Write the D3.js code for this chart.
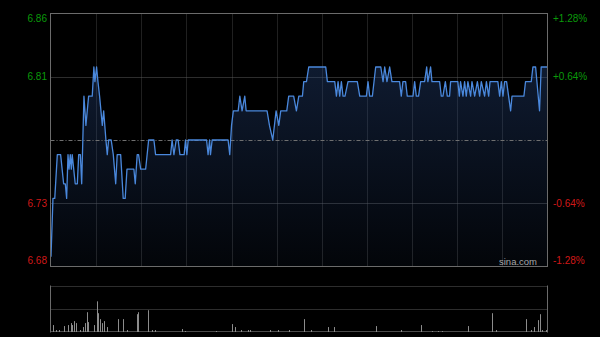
<!DOCTYPE html>
<meta charset="utf-8">
<script src="https://d3js.org/d3.v7.min.js"></script>
<style>
  body { margin: 0; background: #000; }
  text { font-family: "Liberation Sans", Arial, sans-serif; }
</style>
<div id="vis"></div>
<script type="text/javascript">

// previous close and intraday minute series (minute offset from open, 330 = close)
var prevClose = 6.77;

var times = [0, 1.3, 2.5, 4.2, 6.4, 8.4, 9.5, 10.4, 11.3, 12, 12.8, 13.5, 14.1, 16.1, 17.5, 18.4, 19.5, 20.4,
  21.9, 23.2, 25, 27.4, 28.5, 29.2, 30.3, 31.2, 32.3, 34.1, 35, 36.5, 37.4, 38.3, 40, 41.4, 43, 44, 46.3,
  48, 49.3, 50.5, 55.1, 56, 57.3, 58.2, 59.6, 62.9, 64.9, 68.4, 69.5, 79.5, 80.5, 81.7, 83.2, 84.5, 85.7,
  88.5, 89.4, 90.3, 91.2, 103.4, 104.4, 105.4, 106, 107.1, 117.7, 118.8, 120, 121.2, 124.4, 125.5, 127,
  128.8, 129.7, 143.6, 145.2, 147.4, 149.6, 151.4, 152.7, 156.7, 158, 161.3, 163.1, 164.7, 167.1, 168,
  169.8, 171.3, 182.6, 183.7, 188.6, 189.7, 190.8, 191.9, 193, 194.1, 195.4, 197.4, 203.6, 205.2, 209.6,
  210.7, 211.8, 213.6, 215.8, 219.2, 220.7, 221.8, 223.3, 225.1, 226.6, 231.7, 232.8, 233.9, 235.7, 236.8,
  240.6, 241.7, 242.8, 244.3, 245.7, 248.3, 249.7, 250.5, 252.3, 253.2, 258.3, 259.4, 260.5, 262.1, 263.4,
  264.9, 265.6, 270.4, 271.4, 272.2, 273.8, 274.9, 276, 277.1, 278.9, 279.8, 281.6, 283.4, 284.9, 286,
  288.2, 289.4, 290.9, 291.8, 297, 298.2, 299.3, 300.4, 301.5, 302.8, 305.5, 306.4, 314.3, 315.4, 319.2,
  320.3, 322.1, 324.7, 325.8, 330];

var prices = [6.69, 6.73, 6.73, 6.76, 6.76, 6.74, 6.74, 6.73, 6.76, 6.75, 6.76, 6.75, 6.76, 6.74, 6.74, 6.76, 6.76, 6.74,
  6.80, 6.78, 6.80, 6.80, 6.82, 6.81, 6.82, 6.81, 6.80, 6.78, 6.79, 6.77, 6.76, 6.77, 6.77, 6.76, 6.74, 6.76, 6.76,
  6.73, 6.73, 6.75, 6.75, 6.74, 6.76, 6.76, 6.75, 6.75, 6.77, 6.77, 6.76, 6.76, 6.77, 6.76, 6.77, 6.77, 6.76,
  6.76, 6.77, 6.76, 6.77, 6.77, 6.76, 6.77, 6.76, 6.77, 6.77, 6.76, 6.78, 6.79, 6.79, 6.80, 6.79,
  6.80, 6.79, 6.79, 6.78, 6.77, 6.79, 6.78, 6.79, 6.79, 6.80, 6.80, 6.79, 6.80, 6.80, 6.81,
  6.81, 6.82, 6.82, 6.81, 6.81, 6.80, 6.81, 6.80, 6.81, 6.80, 6.80, 6.81, 6.81, 6.80, 6.80,
  6.81, 6.80, 6.80, 6.82, 6.82, 6.81, 6.82, 6.81, 6.82, 6.81, 6.81, 6.80, 6.81, 6.81, 6.80,
  6.80, 6.81, 6.80, 6.80, 6.81, 6.81, 6.82, 6.81, 6.82, 6.81, 6.81, 6.80, 6.80, 6.81, 6.80,
  6.80, 6.81, 6.81, 6.80, 6.81, 6.80, 6.81, 6.80, 6.81, 6.80, 6.81, 6.80, 6.81, 6.80, 6.81,
  6.80, 6.81, 6.80, 6.81, 6.81, 6.80, 6.81, 6.80, 6.81, 6.81, 6.79, 6.80, 6.80, 6.81, 6.81,
  6.82, 6.82, 6.79, 6.82, 6.82];

// volume (thousand shares) at minute offsets
var volTimes = [1.5, 3, 5, 8.6, 11.5, 13.1, 14.1, 15.3, 16.8, 19.3, 21, 22.6, 23.7, 24.8, 28.6, 30.3, 31.4,
  32.5, 33.7, 35.4, 37, 44.7, 48, 50.3, 56.9, 58, 64.6, 67, 69, 86.8, 89, 109.6, 120.4, 122.6, 126.6,
  131, 132, 145.4, 150.7, 158.2, 168, 173.1, 184.1, 187.9, 216.3, 232.4, 245.7, 253.5, 257.2, 260.1,
  277.1, 293.3, 295.5, 315.9, 319.2, 320.7, 323.6, 325.2, 326.5, 329.1];
var volumes = [70, 20, 20, 60, 70, 90, 70, 110, 90, 20, 50, 90, 200, 100, 70, 310, 190,
  130, 90, 110, 50, 130, 130, 20, 180, 200, 220, 20, 20, 30, 10, 10, 80, 50, 20,
  20, 20, 20, 20, 20, 130, 20, 50, 50, 60, 20, 70, 10, 10, 10,
  60, 190, 20, 130, 20, 50, 120, 180, 20, 20];

var priceLabels = ["6.86", "6.81", "6.73", "6.68"];
var pctLabels = ["+1.28%", "+0.64%", "-0.64%", "-1.28%"];
var labelPct = [1.28, 0.64, -0.64, -1.28];

var W = 600, H = 337;
var pL = 50.5, pR = 547.5, pT = 13.5, pB = 266.5;
var vT = 285.5, vB = 332.5;

var svg = d3.select("#vis").append("svg")
  .attr("width", W)
  .attr("height", H)
  .style("background", "#000");

var x = d3.scaleLinear().domain([0, 330]).range([pL + 0.5, pR]);
var y = d3.scaleLinear()
  .domain([prevClose * (1 - 0.0128), prevClose * (1 + 0.0128)])
  .range([pB, pT]);
var yv = d3.scaleLinear().domain([0, 470]).range([vB - 0.5, vT]);

var defs = svg.append("defs");
var grad = defs.append("linearGradient").attr("id", "fillGrad")
  .attr("gradientUnits", "userSpaceOnUse")
  .attr("x1", 0).attr("y1", pT).attr("x2", 0).attr("y2", pB);
grad.append("stop").attr("offset", "0").attr("stop-color", "rgb(40,72,130)").attr("stop-opacity", 0.45);
grad.append("stop").attr("offset", "1").attr("stop-color", "rgb(40,72,130)").attr("stop-opacity", 0.07);

// vertical grid (every 30 minutes)
var vt = d3.range(30, 330, 30);
svg.append("g").selectAll("line").data(vt).enter().append("line")
  .attr("x1", d => Math.round(x(d)) + 0.5)
  .attr("x2", d => Math.round(x(d)) + 0.5)
  .attr("y1", pT).attr("y2", pB)
  .attr("stroke", "#404040")
  .attr("stroke-dasharray", "1,1");

// horizontal grid
[0.64, -0.64].forEach(p => {
  var yy = Math.round(y(prevClose * (1 + p / 100))) + 0.5;
  svg.append("line")
    .attr("x1", pL).attr("x2", pR).attr("y1", yy).attr("y2", yy)
    .attr("stroke", "#5a5a5a").attr("stroke-dasharray", "1,1");
});

var data = times.map((t, i) => ({t: t, p: prices[i]}));

svg.append("path").datum(data)
  .attr("fill", "url(#fillGrad)")
  .attr("d", d3.area().x(d => x(d.t)).y0(pB).y1(d => y(d.p)));

// previous close line
var yc = Math.round(y(prevClose)) + 0.5;
svg.append("line")
  .attr("x1", pL).attr("x2", pR).attr("y1", yc).attr("y2", yc)
  .attr("stroke", "#707070").attr("stroke-dasharray", "4,2,1,2");

svg.append("path").datum(data)
  .attr("fill", "none")
  .attr("stroke", "#4a88dc")
  .attr("stroke-width", 1.3)
  .attr("stroke-linejoin", "round")
  .attr("d", d3.line().x(d => x(d.t)).y(d => y(d.p)));

// frame
svg.append("rect")
  .attr("x", pL).attr("y", pT)
  .attr("width", pR - pL).attr("height", pB - pT)
  .attr("fill", "none").attr("stroke", "#6b6b6b");

// labels
function labelY(d, i) {
  return i === 0 ? pT + 5 : i === 3 ? pB - 6 : y(prevClose * (1 + d / 100));
}

svg.append("g").selectAll("text").data(labelPct).enter().append("text")
  .attr("x", 47)
  .attr("y", labelY)
  .attr("dy", "0.35em")
  .attr("text-anchor", "end")
  .attr("font-size", 10)
  .attr("fill", d => d > 0 ? "#0a9a0a" : "#d01818")
  .text((d, i) => priceLabels[i]);

svg.append("g").selectAll("text").data(labelPct).enter().append("text")
  .attr("x", 553)
  .attr("y", labelY)
  .attr("dy", "0.35em")
  .attr("text-anchor", "start")
  .attr("font-size", 10)
  .attr("fill", d => d > 0 ? "#0a9a0a" : "#d01818")
  .text((d, i) => pctLabels[i]);

svg.append("text")
  .attr("x", 537).attr("y", 264.5)
  .attr("text-anchor", "end")
  .attr("font-size", 9.5)
  .attr("fill", "#a8a8a8")
  .text("sina.com");

// volume panel
[vT, (vT + vB) / 2 - 0.5].forEach(yy => {
  svg.append("line")
    .attr("x1", pL).attr("x2", pR).attr("y1", Math.round(yy) + 0.5).attr("y2", Math.round(yy) + 0.5)
    .attr("stroke", "#5a5a5a").attr("stroke-dasharray", "1,1");
});
svg.append("line").attr("x1", pL).attr("x2", pR).attr("y1", vB - 1).attr("y2", vB - 1)
  .attr("stroke", "#4a4a4a");
[pL, pR].forEach(xx => {
  svg.append("line").attr("x1", xx).attr("x2", xx).attr("y1", vT).attr("y2", vB)
    .attr("stroke", "#6b6b6b");
});

svg.append("g").selectAll("line").data(volTimes).enter().append("line")
  .attr("x1", d => Math.round(x(d)) + 0.5)
  .attr("x2", d => Math.round(x(d)) + 0.5)
  .attr("y1", yv(0))
  .attr("y2", (d, i) => yv(volumes[i]))
  .attr("stroke", "#8c8c8c");

</script>
